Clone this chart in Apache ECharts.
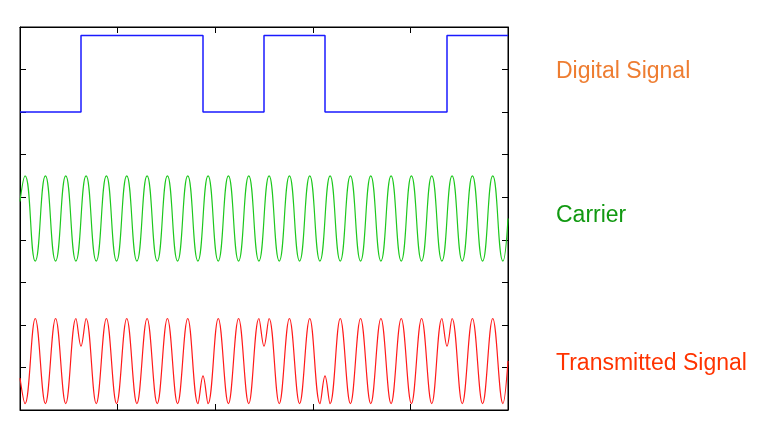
<!DOCTYPE html>
<html>
<head>
<meta charset="utf-8">
<script src="https://cdn.jsdelivr.net/npm/echarts@6/dist/echarts.min.js"></script>
<style>html,body{margin:0;padding:0;background:#fff}#main{width:767px;height:428px}</style>
</head>
<body>
<div id="main"></div>
<script>
// bits, 3 carrier cycles each
var bits = [0, 1, 1, 0, 1, 0, 0, 1];
// carrier extrema, one per half cycle
var carrier = [1,-1,1,-1,1,-1, 1,-1,1,-1,1,-1, 1,-1,1,-1,1,-1, 1,-1,1,-1,1,-1,
               1,-1,1,-1,1,-1, 1,-1,1,-1,1,-1, 1,-1,1,-1,1,-1, 1,-1,1,-1,1,-1];
// transmitted extrema, phase flipped where bit is 0
var transmitted = [-1,1,-1,1,-1,1, 1,-1,1,-1,1,-1, 1,-1,1,-1,1,-1, -1,1,-1,1,-1,1,
                   1,-1,1,-1,1,-1, -1,1,-1,1,-1,1, -1,1,-1,1,-1,1, 1,-1,1,-1,1,-1];
var glitchDepth = 0.35;   // small notch seen at phase flips
var digitalLow = 7, digitalHigh = 8.8;
var carrierMid = 4.5, transMid = 1.15;

var digitalData = [];
for (var i = 0; i < bits.length; i++) {
  digitalData.push([i * 3, bits[i] ? digitalHigh : digitalLow]);
}
digitalData.push([24, bits[bits.length - 1] ? digitalHigh : digitalLow]);

var carrierData = [[0, carrierMid + 0.4]];
var transData = [[0, transMid - 0.4]];
for (var k = 0; k < carrier.length; k++) {
  var t = 0.25 + k * 0.5;
  carrierData.push([t, carrierMid + carrier[k]]);
  if (k > 0 && transmitted[k] === transmitted[k - 1]) {
    transData.push([t - 0.25, transMid + transmitted[k] * glitchDepth]);
  }
  transData.push([t, transMid + transmitted[k]]);
}
carrierData.push([24, carrierMid]);
transData.push([24, transMid]);

var axisCommon = {
  axisLine: { show: true, onZero: false, lineStyle: { color: '#000', width: 1 } },
  axisTick: { show: true, inside: true, length: 6, lineStyle: { color: '#000' } },
  axisLabel: { show: false },
  splitLine: { show: false }
};

var chart = echarts.init(document.getElementById('main'));
chart.setOption({
  animation: false,
  grid: { left: 20, right: 259, top: 27, bottom: 18, show: true, borderColor: '#000', borderWidth: 1 },
  xAxis: [
    Object.assign({ type: 'value', min: 0, max: 24, interval: 4.8, position: 'bottom' }, axisCommon),
    Object.assign({ type: 'value', min: 0, max: 24, interval: 4.8, position: 'top' }, axisCommon)
  ],
  yAxis: [
    Object.assign({ type: 'value', min: 0, max: 9, interval: 1, position: 'left' }, axisCommon),
    Object.assign({ type: 'value', min: 0, max: 9, interval: 1, position: 'right' }, axisCommon)
  ],
  series: [
    { type: 'line', data: digitalData, step: 'end', symbol: 'none',
      lineStyle: { color: '#1a1aff', width: 1.5 } },
    { type: 'line', data: carrierData, smooth: 0.5, symbol: 'none',
      lineStyle: { color: '#1ec81e', width: 1.2 } },
    { type: 'line', data: transData, smooth: 0.4, symbol: 'none',
      lineStyle: { color: '#ff1a1a', width: 1.2 } }
  ],
  graphic: [
    { type: 'text', left: 556, top: 60, style: { text: 'Digital Signal', fill: '#ee7d31', font: '23px "Liberation Sans", Arial, sans-serif' } },
    { type: 'text', left: 556, top: 204, style: { text: 'Carrier', fill: '#119911', font: '23px "Liberation Sans", Arial, sans-serif' } },
    { type: 'text', left: 556, top: 352, style: { text: 'Transmitted Signal', fill: '#ff3300', font: '23px "Liberation Sans", Arial, sans-serif' } }
  ]
});
</script>
</body>
</html>
